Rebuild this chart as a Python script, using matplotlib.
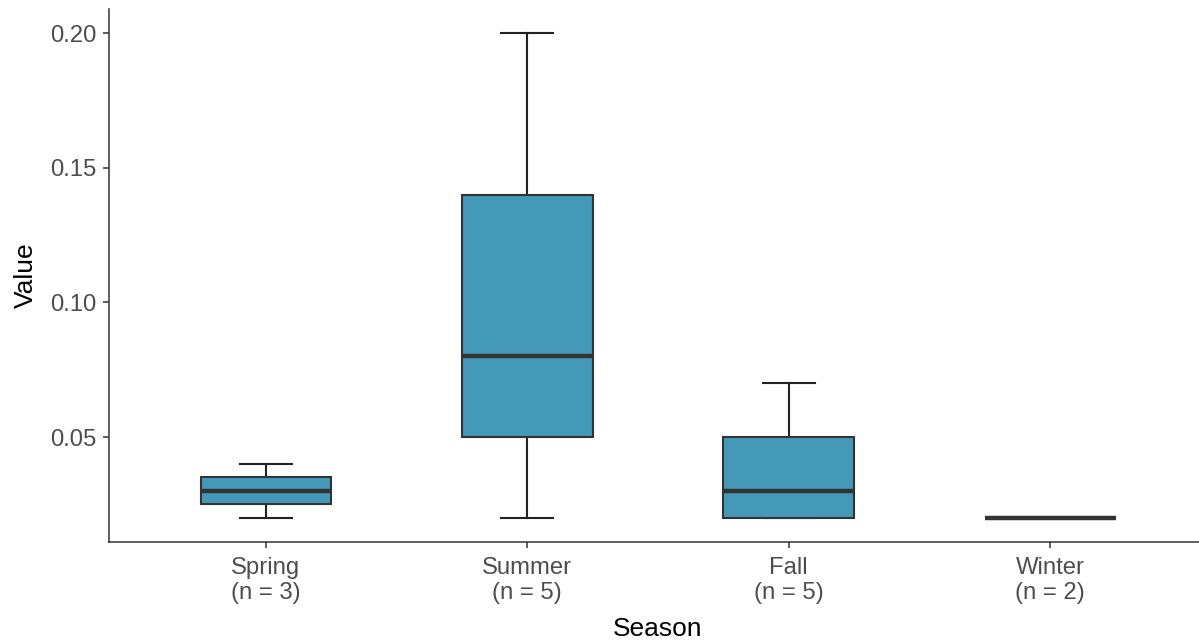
import matplotlib
matplotlib.use("Agg")
import matplotlib.pyplot as plt

categories = ["Spring", "Summer", "Fall", "Winter"]
spring = [0.02, 0.03, 0.04]
summer = [0.02, 0.05, 0.08, 0.14, 0.20]
fall = [0.02, 0.02, 0.03, 0.05, 0.07]
winter = [0.02, 0.02]
values = [spring, summer, fall, winter]
yticks = [0.05, 0.10, 0.15, 0.20]
ytick_labels = ["0.05", "0.10", "0.15", "0.20"]

plt.rcParams['font.family'] = ['Liberation Sans', 'DejaVu Sans']

W, H = 1199, 642
fig = plt.figure(figsize=(W / 100, H / 100), dpi=100)
ax = fig.add_axes([109 / W, (H - 542) / H, (1207 - 109) / W, (542 - 9) / H])

fill = "#4499B8"
edge = "#333333"
positions = list(range(1, len(categories) + 1))
bp = ax.boxplot(values, positions=positions, widths=0.5, patch_artist=True,
                whis=1.5, showfliers=False,
                boxprops=dict(facecolor=fill, edgecolor=edge, linewidth=1.5, zorder=3),
                medianprops=dict(color=edge, linewidth=3.2, solid_capstyle='butt', zorder=4),
                whiskerprops=dict(color="#222222", linewidth=1.5, zorder=2),
                capprops=dict(color="#222222", linewidth=1.5, zorder=2),
                capwidths=0.2)

ax.set_xlim(0.4, 4.6)
ax.set_ylim(0.011, 0.209)
ax.set_yticks(yticks)
ax.set_yticklabels(ytick_labels)
ax.set_xticks(positions)
ax.set_xticklabels([f"{c}\n(n = {len(v)})" for c, v in zip(categories, values)],
                   linespacing=1.2)

for s in ["top", "right"]:
    ax.spines[s].set_visible(False)
for s in ["left", "bottom"]:
    ax.spines[s].set_color("#333333")
    ax.spines[s].set_linewidth(1.1)

ax.tick_params(axis='both', colors="#333333", labelcolor="#4D4D4D",
               labelsize=17.2, length=4.5, width=1.1, pad=4.5)
ax.tick_params(axis='x', pad=6.2)
ax.set_xlabel("Season", fontsize=19, color="black", labelpad=9)
ax.set_ylabel("Value", fontsize=19, color="black", labelpad=9)

fig.savefig("out.png", dpi=100)
